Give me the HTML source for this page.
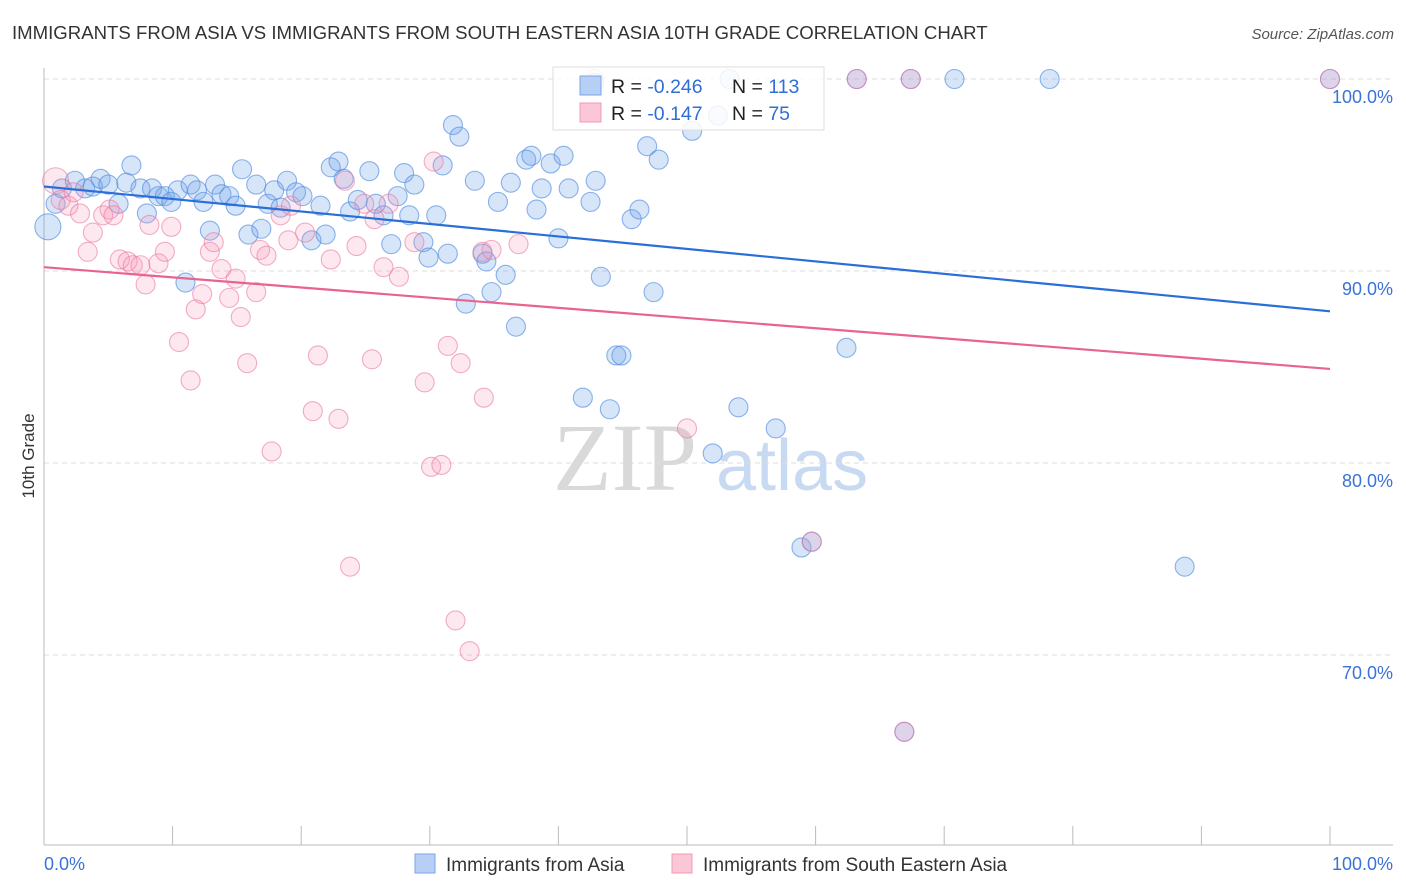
<!DOCTYPE html>
<html><head><meta charset="utf-8"><style>
body{margin:0;background:#fff;font-family:"Liberation Sans",sans-serif;}
svg{display:block}
</style></head><body>
<svg id="chart" width="1406" height="892">
<text x="12" y="39" font-size="18.6" fill="#333">IMMIGRANTS FROM ASIA VS IMMIGRANTS FROM SOUTH EASTERN ASIA 10TH GRADE CORRELATION CHART</text>
<text x="1394" y="39" font-size="15" fill="#555" font-style="italic" text-anchor="end">Source: ZipAtlas.com</text>
<text x="34" y="456" font-size="17" fill="#333" transform="rotate(-90 34 456)" text-anchor="middle">10th Grade</text>
<g>
<text x="553" y="490" font-size="96" fill="#d9d9d9" font-family="Liberation Serif,serif">ZIP</text>
<text x="716" y="490" font-size="72" fill="#c8daf2">atlas</text>
</g>
<g id="grid"></g><g id="axes"></g><g id="pts"></g><g id="trend"></g>
<g>
<rect x="553" y="67" width="271" height="63" fill="#fff" fill-opacity="0.85" stroke="#ddd"/>
<rect x="580" y="76" width="21" height="19" fill="#b7cff5" stroke="#7aa6e8"/>
<rect x="580" y="103" width="21" height="19" fill="#fbc7d6" stroke="#f09ab6"/>
<text x="611" y="93" font-size="19.5" fill="#222">R = <tspan fill="#2f6fd6">-0.246</tspan></text>
<text x="732" y="93" font-size="19.5" fill="#222">N = <tspan fill="#2f6fd6">113</tspan></text>
<text x="611" y="120" font-size="19.5" fill="#222">R =  <tspan fill="#2f6fd6">-0.147</tspan></text>
<text x="732" y="120" font-size="19.5" fill="#222">N =  <tspan fill="#2f6fd6">75</tspan></text>
</g>
<g>
<rect x="415" y="854" width="20" height="19" fill="#b7cff5" stroke="#7aa6e8"/>
<text x="446" y="871" font-size="19" fill="#333">Immigrants from Asia</text>
<rect x="672" y="854" width="20" height="19" fill="#fbc7d6" stroke="#f09ab6"/>
<text x="703" y="871" font-size="19" fill="#333">Immigrants from South Eastern Asia</text>
</g>
</svg>
<script>
const yTicks=[100,90,80,70];
const yTickLabels=["100.0%","90.0%","80.0%","70.0%"];
const xTickLabels=["0.0%","100.0%"];
const blueX=[0.3,0.9,1.4,2.4,3.2,3.8,4.4,5.0,5.8,6.4,6.8,7.5,8.0,8.4,8.9,9.4,9.9,10.4,11.0,11.4,11.9,12.4,12.9,13.3,13.8,14.4,14.9,15.4,15.9,16.5,16.9,17.4,17.9,18.4,18.9,19.6,20.1,20.8,21.5,21.9,22.3,22.9,23.3,23.8,24.4,25.3,25.8,26.4,27.0,27.5,28.0,28.4,28.8,29.5,29.9,30.5,31.0,31.4,31.8,32.3,32.8,33.5,34.1,34.4,34.8,35.3,35.9,36.3,36.7,37.5,37.9,38.3,38.7,39.4,40.0,40.4,40.8,41.9,42.5,42.9,43.3,44.0,44.5,44.9,45.7,46.3,46.9,47.4,47.8,50.4,52.0,52.4,53.3,54.0,56.9,58.9,59.7,62.4,63.2,67.4,70.8,78.2,88.7,100,66.9,42.8];
const blueY=[92.3,93.5,94.3,94.7,94.3,94.4,94.8,94.5,93.5,94.6,95.5,94.3,93.0,94.3,93.9,93.9,93.6,94.2,89.4,94.5,94.2,93.6,92.1,94.5,94.0,93.9,93.4,95.3,91.9,94.5,92.2,93.5,94.2,93.3,94.7,94.1,93.9,91.6,93.4,91.9,95.4,95.7,94.8,93.1,93.7,95.2,93.5,92.9,91.4,93.9,95.1,92.9,94.5,91.5,90.7,92.9,95.5,90.9,97.6,97.0,88.3,94.7,90.9,90.5,88.9,93.6,89.8,94.6,87.1,95.8,96.0,93.2,94.3,95.6,91.7,96.0,94.3,83.4,93.6,94.7,89.7,82.8,85.6,85.6,92.7,93.2,96.5,88.9,95.8,97.3,80.5,98.1,100,82.9,81.8,75.6,75.9,86.0,100,100,100,100,74.6,100,66.0,99.8];
const pinkX=[0.9,1.3,1.9,2.3,2.8,3.4,3.8,4.6,5.1,5.4,5.9,6.5,6.9,7.5,7.9,8.2,8.9,9.4,9.9,10.5,11.4,11.8,12.3,12.9,13.2,13.8,14.4,14.9,15.3,15.8,16.5,16.8,17.3,17.7,18.4,19.0,19.2,20.3,20.9,21.3,22.3,22.9,23.4,23.8,24.3,24.9,25.5,25.7,26.4,26.8,27.6,28.8,29.6,30.1,30.3,30.9,31.4,32.0,32.4,33.1,34.1,34.2,34.8,36.9,50.0,59.7,63.2,67.4,66.9,100,42.8];
const pinkY=[94.7,93.7,93.4,94.1,93.0,91.0,92.0,92.9,93.2,92.9,90.6,90.5,90.3,90.3,89.3,92.4,90.4,91.0,92.3,86.3,84.3,88.0,88.8,91.0,91.5,90.1,88.6,89.6,87.6,85.2,88.9,91.1,90.8,80.6,92.9,91.6,93.4,92.0,82.7,85.6,90.6,82.3,94.7,74.6,91.3,93.5,85.4,92.7,90.2,93.5,89.7,91.5,84.2,79.8,95.7,79.9,86.1,71.8,85.2,70.2,91.0,83.4,91.1,91.4,81.8,75.9,100,100,66.0,100,100];
const blueTrend=[94.4,87.9];
const pinkTrend=[90.2,84.9];
const NS="http://www.w3.org/2000/svg";
const X0=44,X1=1330,Y100=79,PX10=19.2;
function sx(v){return X0+(X1-X0)*v/100;}
function sy(v){return Y100+(100-v)*PX10;}
function mk(t,a,p){const e=document.createElementNS(NS,t);for(const k in a)e.setAttribute(k,a[k]);p.appendChild(e);return e;}
const grid=document.getElementById('grid'),axes=document.getElementById('axes'),pts=document.getElementById('pts'),tr=document.getElementById('trend');
yTicks.forEach((v,i)=>{
 const l=mk('line',{x1:44,x2:1393,y1:sy(v),y2:sy(v),stroke:'#ddd','stroke-dasharray':'5,4'},grid);
 
 
 const t=mk('text',{x:1393,y:sy(v)+24,'font-size':18,fill:'#3a72d8','text-anchor':'end'},axes);
 t.textContent=yTickLabels[i];
 
 
});
const ya=mk('line',{x1:44,x2:44,y1:68,y2:845,stroke:'#bbb'},axes);


const xa=mk('line',{x1:44,x2:1393,y1:845,y2:845,stroke:'#bbb'},axes);


for(let i=0;i<=10;i++){
 const tk=mk('line',{x1:sx(i*10),x2:sx(i*10),y1:826,y2:845,stroke:'#bbb'},axes);
 
 
}
[[X0,'start',0],[1393,'end',1]].forEach(([x,a,i])=>{
 const t=mk('text',{x:x,y:870,'font-size':18,fill:'#3a72d8','text-anchor':a},axes);
 t.textContent=xTickLabels[i];
 
 
});
function dots(xs,ys,fill,stroke,name){
 xs.forEach((x,i)=>{
  const r=(i===0&&x<2)?13:9.5;
  const c=mk('circle',{cx:sx(x),cy:sy(ys[i]),r:r,fill:fill,stroke:stroke,'stroke-width':1.1},pts);
  
  
 });
}
dots(blueX,blueY,'rgba(110,160,235,0.28)','rgba(80,140,225,0.65)','point-asia');
dots(pinkX,pinkY,'rgba(245,150,180,0.22)','rgba(235,120,160,0.6)','point-sea');
const bl=mk('line',{x1:sx(0),y1:sy(blueTrend[0]),x2:sx(100),y2:sy(blueTrend[1]),stroke:'#2a6fd8','stroke-width':2.2},tr);


const pl=mk('line',{x1:sx(0),y1:sy(pinkTrend[0]),x2:sx(100),y2:sy(pinkTrend[1]),stroke:'#e8638f','stroke-width':2.2},tr);


</script>
</body></html>
